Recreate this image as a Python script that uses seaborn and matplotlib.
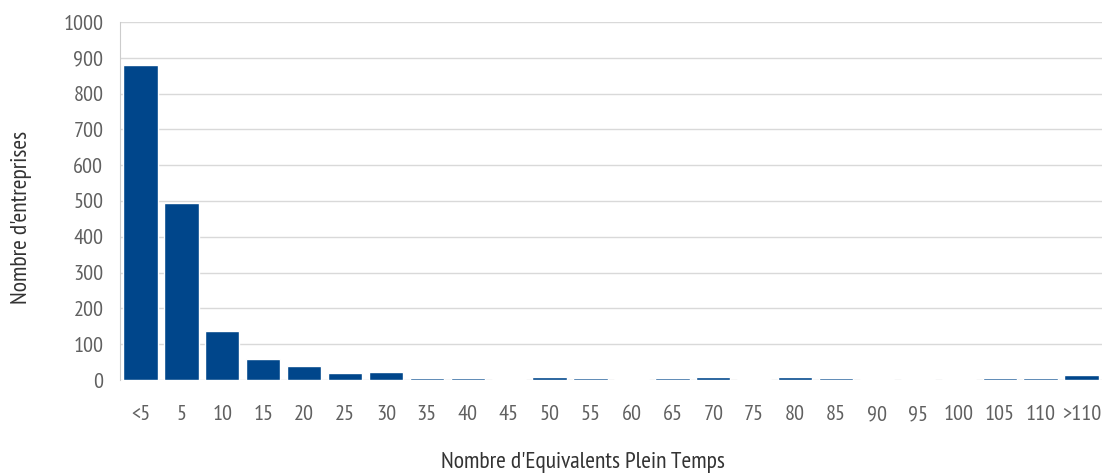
import numpy as np
import pandas as pd
import seaborn as sns
import matplotlib.pyplot as plt

categories = ["<5", "5", "10", "15", "20", "25", "30", "35", "40", "45", "50", "55",
              "60", "65", "70", "75", "80", "85", "90", "95", "100", "105", "110", ">110"]
counts = [880, 495, 137, 58, 40, 20, 22, 5, 5, 3, 8, 5,
          3, 5, 8, 3, 8, 5, 3, 3, 3, 5, 5, 14]
y_ticks = [0, 100, 200, 300, 400, 500, 600, 700, 800, 900, 1000]

df = pd.DataFrame({"cat": categories, "n": counts})

sns.set_style("white")
plt.rcParams['font.family'] = ['PT Sans Narrow', 'DejaVu Sans']

fig = plt.figure(figsize=(11.06, 4.76), dpi=100)
ax = fig.add_axes([120 / 1106, 1 - 380 / 476, 982 / 1106, 358 / 476])

sns.barplot(data=df, x="cat", y="n", color="#00468b", saturation=1, width=0.84, ax=ax)

ax.set_xlim(-0.5, len(categories) - 0.5)
ax.set_ylim(0, 1000)
ax.set_yticks(y_ticks)
ax.yaxis.grid(True, color="#d9d9d9", linewidth=1)
ax.set_axisbelow(True)

# tick marks between categories
ax.set_xticks(np.arange(len(categories)))
ax.set_xticks(np.arange(len(categories) + 1) - 0.5, minor=True)
ax.tick_params(axis="x", which="major", length=0, pad=18, labelsize=16, labelcolor="#606060")
ax.tick_params(axis="x", which="minor", length=12, color="#cccccc", width=1)
ax.tick_params(axis="y", length=8, color="#cccccc", labelsize=16, labelcolor="#606060", pad=4)

for s in ["top", "right", "bottom"]:
    ax.spines[s].set_visible(False)
ax.spines["left"].set_color("#cccccc")

ax.set_xlabel("Nombre d'Equivalents Plein Temps", fontsize=17, color="#333333")
ax.set_ylabel("Nombre d'entreprises", fontsize=17, color="#333333")
ax.xaxis.set_label_coords(0.471, -0.2)
ax.yaxis.set_label_coords(-0.09, 0.455)

fig.savefig("out.png", dpi=100)
